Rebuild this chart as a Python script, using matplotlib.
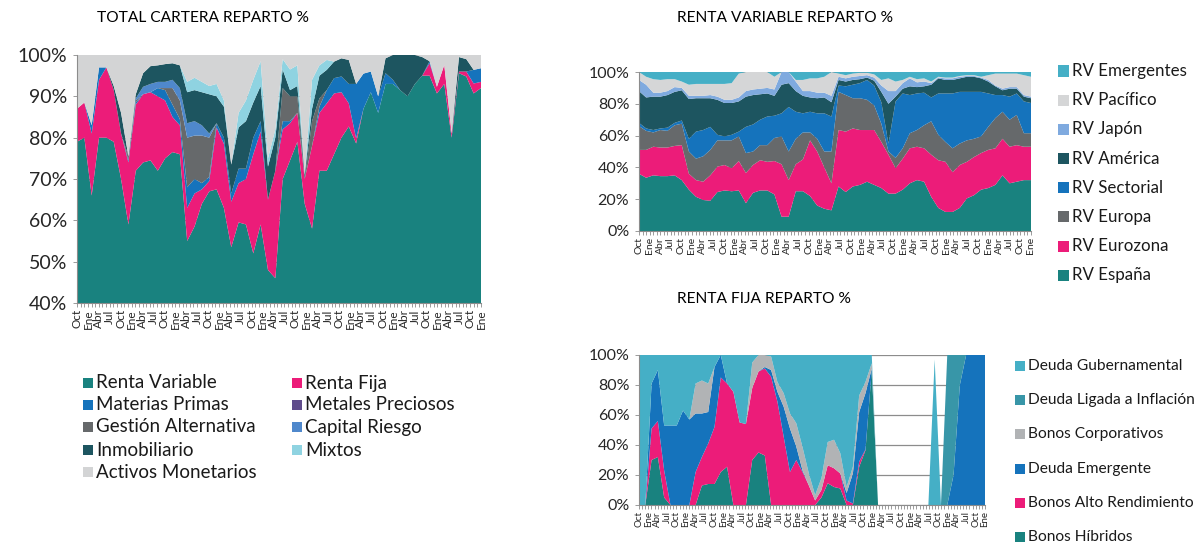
import numpy as np
import pandas as pd
import matplotlib
matplotlib.use('Agg')
import matplotlib.pyplot as plt
from matplotlib.patches import Rectangle
from matplotlib.ticker import FuncFormatter, MultipleLocator

plt.rcParams['font.family'] = ['Lato', 'DejaVu Sans']

W, H = 1204, 544

# eje temporal: meses oct-2003 .. ene-2013, etiquetas trimestrales
months = pd.date_range('2003-10-01', '2013-01-01', freq='MS')
mes = {1: 'Ene', 4: 'Abr', 7: 'Jul', 10: 'Oct'}
x = np.linspace(0, len(months) - 1, 56)   # 56 lecturas (aprox. bimensuales)

# ---------------- TOTAL CARTERA ----------------
renta_variable = [79, 80, 66, 80, 80, 79, 70, 59, 72, 74,
                  74.5, 72, 75, 76.5, 76, 55, 58.5, 64, 67, 67.5,
                  63, 53.5, 59.5, 59, 52, 59, 48, 46, 70, 74.5,
                  79, 64, 58, 72, 72, 76, 80, 82.7, 78.6, 87,
                  91, 86, 93, 93, 91.5, 90, 93, 95, 95, 90.7,
                  93, 80, 95.6, 94.8, 90.7, 92]
renta_fija = [8, 8.5, 15, 14, 17, 12.5, 11, 15, 16, 16.5,
              16.5, 18, 14, 8.5, 7, 8, 8, 3.5, 2.5, 15,
              15.5, 11, 9.5, 11, 24, 22.5, 17, 26, 12, 9,
              7, 6, 20, 14, 16.3, 14.7, 11, 5.6, 1.2, 0,
              0, 0, 0, 0, 0, 0, 0, 0, 3, 1.6,
              4.6, 1, 0.4, 1.2, 2.4, 1.5]
materias_primas = [0, 0, 2, 3, 0, 0, 0, 0.5, 0.5, 0,
                   0, 2, 2.5, 3, 1.5, 5, 3.5, 1.5, 1, 1,
                   1.5, 2, 3.5, 2.5, 4, 2.5, 0, 0, 2, 0.5,
                   0, 0, 0, 1.5, 3.2, 3.7, 3.8, 4.7, 13.2, 8.5,
                   5, 4, 2.6, 1, 0, 0, 0, 0, 0.5, 0,
                   0, 0, 0, 0, 3.3, 3.3]
metales_preciosos = [0, 0, 0, 0, 0, 0, 0, 0, 0, 0,
                     0, 0, 0, 0, 0, 0, 0, 0, 0, 0,
                     0, 0, 0, 0, 0, 0, 0, 0, 0, 0,
                     0, 0, 0, 0, 0, 0, 0, 0, 0, 0,
                     0, 0, 0, 0, 0, 0, 0, 0, 0, 0,
                     0, 0, 0, 0, 0, 0]
gestion_alt = [0, 0, 0, 0, 0, 0, 0, 1, 0.5, 0,
               0, 0, 0.5, 4, 4.5, 12, 10.5, 11.5, 9.5, 0,
               0, 0, 0, 0, 0, 0, 0, 0, 8, 6,
               4, 0, 6, 2, 0, 0, 0, 0, 0, 0,
               0, 0, 0, 0, 0, 0, 0, 0, 0, 0,
               0, 0, 0, 0, 0, 0]
capital_riesgo = [0, 0, 0, 0, 0, 0, 0, 0, 0.5, 1.8,
                  2, 1.5, 1.5, 2, 3, 3.5, 3.5, 2.5, 1, 0,
                  0, 0, 0, 0, 0, 0, 0, 0, 0, 0,
                  0, 0, 0, 0, 0, 0, 0, 0, 0, 0,
                  0, 0, 0, 0, 0, 0, 0, 0, 0, 0,
                  0, 0, 0, 0, 0, 0]
inmobiliario = [0, 0, 0, 0, 0, 1, 5, 0, 1, 3.3,
                4.3, 4, 4.3, 4, 5.5, 7.5, 7.5, 8, 9.5, 6.5,
                7.5, 7, 10, 11.5, 8.5, 8.5, 8, 8, 4.5, 1.5,
                2.5, 1, 3, 5.5, 4.9, 4, 4.4, 5.8, 0, 0,
                0, 0, 3.6, 6, 8.5, 10, 7, 4.5, 0, 0,
                0, 0, 3.5, 3, 0, 0]
mixtos = [0, 0, 0, 0, 0, 0, 0, 0, 0, 0,
          0, 0, 0, 0, 0, 2.5, 3, 2.5, 2, 3,
          1.5, 0, 3.5, 5, 5.5, 6, 2, 2, 2.5, 5,
          5, 0, 7, 2.5, 2.4, 0, 0, 0, 0, 0,
          0, 0, 0, 0, 0, 0, 0, 0, 0, 0,
          0, 0, 0, 0, 0, 0]
monetarios = [13, 11.5, 17, 3, 3, 7.5, 14, 24.5, 9.5, 4.4,
              2.7, 2.5, 2.2, 2, 2.5, 6.5, 5.5, 6.5, 7.5, 7,
              11, 26.5, 14, 11, 6, 1.5, 25, 18, 1, 3.5,
              2.5, 29, 6, 2.5, 1.2, 1.6, 0.8, 1.2, 7, 4.5,
              4, 10, 0.8, 0, 0, 0, 0, 0.5, 1.5, 7.7,
              2.4, 19, 0.5, 1, 3.6, 3.2]

total_names = ['Renta Variable', 'Renta Fija', 'Materias Primas', 'Metales Preciosos',
               'Gestión Alternativa', 'Capital Riesgo', 'Inmobiliario', 'Mixtos',
               'Activos Monetarios']
total_colors = ['#19827F', '#EC1C79', '#1573BC', '#5F4B8B', '#66696B',
                '#4F88CC', '#1D5560', '#8FD3E1', '#D3D4D5']

# ---------------- RENTA VARIABLE ----------------
rv_espana = [36, 33.5, 35, 34.5, 34.5, 35, 32, 26, 21.5, 19.5,
             19, 24.5, 25.5, 25, 25.5, 17.5, 24, 25.5, 25.5, 23,
             9, 9, 25, 25, 22, 16, 14, 13, 28, 24.5,
             28, 29, 31, 29, 27, 23.5, 23.5, 26, 30, 32,
             31, 21.5, 14.5, 12, 12, 14.5, 20.5, 22.5, 26, 27,
             29, 35, 30, 31, 32, 32]
rv_eurozona = [15, 17.5, 18, 18, 18, 18.5, 22, 10, 10.5, 11.5,
               16, 16, 16, 14.5, 18.5, 19, 17.5, 19, 18, 21,
               33, 23, 17, 20, 35, 34, 26, 17, 35.5, 38,
               36.5, 34.5, 32.5, 34.5, 29, 24.5, 16, 19.5, 22, 21,
               21, 26.5, 30, 31.5, 25, 27, 23, 24, 23, 24,
               23, 23, 23, 23, 21, 21]
rv_europa = [15, 12, 9, 11, 10.5, 13, 13.5, 14, 13.5, 16,
             16, 16.5, 15.5, 17.5, 15.5, 12.5, 8.5, 9.5, 10.5, 14.5,
             17.5, 18, 16, 17, 5, 8, 10, 20, 24, 23,
             19, 20, 19, 15.5, 11.5, 2, 6.5, 6.5, 9.5, 10.5,
             14.5, 21, 16, 12.5, 15, 13.5, 13.5, 11.5, 10.5, 14.5,
             19, 17, 17, 19, 8.5, 8.5]
rv_sectorial = [2, 1.5, 1.5, 1, 2, 1.5, 2, 8, 17, 16.5,
                14.5, 3.5, 2.5, 3.5, 3, 16.5, 17, 16, 18, 14,
                14.5, 28, 17, 12, 13, 16, 24, 22, 4, 5.5,
                8.5, 9.5, 12.5, 12.5, 13.5, 5, 35.5, 34.5, 24, 23,
                20.5, 15, 26, 30.5, 34.5, 32.5, 30.5, 29.5, 28, 21,
                14.5, 10.5, 14.5, 13.5, 20, 19]
rv_america = [20, 19.5, 21, 20, 20.5, 19.5, 19, 25, 21, 20,
              18, 22, 21, 20, 19, 19, 18.5, 16, 14.5, 12.5,
              18, 15, 13, 11, 9, 9.5, 10, 9, 3.5, 3,
              3, 2.5, 1.5, 3, 6.5, 25, 3, 3, 5.5, 4,
              4, 8, 9.5, 8.5, 8.5, 8.5, 9.5, 9.5, 8.5, 7.5,
              5.5, 3, 5, 3, 3, 3]
rv_japon = [7, 8, 2.5, 2.5, 2.5, 3, 1.5, 2, 1.5, 1.5,
            2, 2, 2, 2, 2.5, 3.5, 3.5, 3.5, 3.5, 4,
            8, 7, 6, 3, 4, 3.5, 3, 4, 2, 2,
            2, 2, 1.5, 2, 4, 8, 3.5, 3.5, 5, 3,
            3, 1, 0.5, 1, 1, 1, 0.5, 0.5, 0.5, 1,
            0.5, 1, 1, 1, 1, 1]
rv_pacifico = [5, 5, 8.5, 8, 7.5, 5, 4, 7, 7.5, 7.5,
               7, 8, 10, 10.5, 15, 12, 11, 10.5, 10, 8,
               0, 0, 1, 7, 8, 9, 10, 15, 2, 2,
               2, 2, 1.5, 2, 3.5, 8, 6, 2, 1, 2,
               2, 1, 0.5, 0.5, 0.5, 0.5, 0.5, 0.5, 0.5, 3,
               7.5, 9.5, 8.5, 8.5, 12.5, 12.5]
rv_emergentes = [0, 3, 4.5, 5, 4.5, 4.5, 6, 8, 7.5, 7.5,
                 7.5, 7.5, 7.5, 7, 1, 0, 0, 0, 0, 3,
                 0, 0, 5, 5, 4, 4, 3, 0, 1, 2,
                 1, 0.5, 0.5, 1.5, 5, 4, 6, 5, 3, 4.5,
                 4, 6, 3, 3.5, 3.5, 2.5, 2, 2, 3, 2,
                 1, 1, 1, 1, 2, 3]

rv_names = ['RV España', 'RV Eurozona', 'RV Europa', 'RV Sectorial',
            'RV América', 'RV Japón', 'RV Pacífico', 'RV Emergentes']
rv_colors = ['#19827F', '#EC1C79', '#66696B', '#1573BC',
             '#1D5560', '#7FAADF', '#D5D6D7', '#45AFC6']

# ---------------- RENTA FIJA ----------------
bonos_hibridos = [0, 0, 30, 32, 5, 0, 0, 0, 0, 0,
                  13, 14, 14, 22, 25.5, 0, 0, 0, 30, 35,
                  33, 0, 0, 0, 0, 0, 0, 0, 0, 5,
                  14.5, 12, 11, 0, 0, 25.5, 36.5, 90, 0, 0,
                  0, 0, 0, 0, 0, 0, 0, 0, 0, 0,
                  0, 0, 0, 0, 0, 0]
bonos_alto_rend = [0, 0, 21, 24, 18, 0, 0, 0, 0, 22,
                   19, 27, 38, 63, 55.5, 75.5, 55, 54, 48, 54,
                   58, 85.5, 69, 45.5, 22, 30, 22, 13, 3, 5,
                   12, 12.5, 10, 3, 1, 3.5, 0.5, 0, 0, 0,
                   0, 0, 0, 0, 0, 0, 0, 0, 0, 0,
                   0, 0, 0, 0, 0, 0]
deuda_emergente = [0, 0, 30, 34, 30, 53, 53, 63, 57, 39,
                   29, 21, 40, 15, 0, 0, 0, 0, 0, 0,
                   1, 4.5, 6.5, 20, 29, 9, 1, 0, 0, 0,
                   0, 0, 0, 5, 20, 33, 37.5, 1, 0, 0,
                   0, 0, 0, 0, 0, 0, 0, 0, 0, 0,
                   20, 80, 100, 100, 100, 100]
bonos_corporativos = [0, 0, 0, 0, 0, 0, 0, 0, 0, 20,
                      22, 19, 0, 0, 0, 0, 0, 0, 17, 11,
                      8, 9, 6.5, 9, 10, 15.5, 15.5, 8, 3.5, 8,
                      15.5, 19, 13.5, 4, 4.5, 11, 7.5, 3.5, 0, 0,
                      0, 0, 0, 0, 0, 0, 0, 0, 0, 0,
                      0, 0, 0, 0, 0, 0]
deuda_ligada = [0, 0, 0, 0, 0, 0, 0, 0, 0, 0,
                0, 0, 0, 0, 0, 0, 0, 0, 0, 0,
                0, 0, 0, 0, 0, 0, 0, 0, 0, 0,
                0, 0, 0, 0, 0, 0, 0, 0, 0, 0,
                0, 0, 0, 0, 0, 0, 0, 0, 0, 100,
                80, 20, 0, 0, 0, 0]
deuda_gubernamental = [100, 100, 19, 10, 47, 47, 47, 37, 43, 19,
                       17, 19, 8, 0, 19, 24.5, 45, 46, 5, 0,
                       0, 1, 18, 25.5, 39, 45.5, 61.5, 79, 93.5, 82,
                       58, 56.5, 65.5, 88, 74.5, 27, 18, 5.5, 0, 0,
                       0, 0, 0, 0, 0, 0, 0, 97, 0, 0,
                       0, 0, 0, 0, 0, 0]

rf_names = ['Bonos Híbridos', 'Bonos Alto Rendimiento', 'Deuda Emergente',
            'Bonos Corporativos', 'Deuda Ligada a Inflación', 'Deuda Gubernamental']
rf_colors = ['#19827F', '#EC1C79', '#1573BC', '#B1B3B5', '#3896A8', '#45AFC6']


def px_axes(fig, x0, y0, x1, y1):
    return fig.add_axes([x0 / W, 1 - y1 / H, (x1 - x0) / W, (y1 - y0) / H])


def style(ax, ymin, step, yfs, xfs):
    ax.set_xlim(0, len(months) - 1)
    ax.set_ylim(ymin, 100)
    ax.yaxis.set_major_locator(MultipleLocator(step))
    ax.yaxis.set_major_formatter(FuncFormatter(lambda v, p: f'{v:.0f}%'))
    qi = [i for i, m in enumerate(months) if m.month in mes]
    ax.set_xticks(qi)
    ax.set_xticklabels([mes[months[i].month] for i in qi], rotation=90,
                       fontsize=xfs, color='#262626')
    ax.set_xticks(range(len(months)), minor=True)
    ax.tick_params(axis='x', which='both', length=3, width=0.6,
                   color='#8c8c8c', pad=1.5)
    ax.tick_params(axis='y', length=3, width=0.6, color='#8c8c8c',
                   labelsize=yfs, labelcolor='#262626', pad=4)
    for s in ['top', 'right']:
        ax.spines[s].set_visible(False)
    for s in ['left', 'bottom']:
        ax.spines[s].set_color('#8c8c8c')
        ax.spines[s].set_linewidth(0.8)
    ax.set_axisbelow(True)
    ax.yaxis.grid(True, color='#8c8c8c', lw=0.9)


def legend_boxes(fig, names, colors, xs, ys, size, fs):
    for name, col, bx, by in zip(names, colors, xs, ys):
        fig.patches.append(Rectangle((bx / W, 1 - (by + size / 2) / H), size / W, size / H,
                                     transform=fig.transFigure, fc=col, ec='none'))
        fig.text((bx + size + 3) / W, 1 - by / H, name, fontsize=fs,
                 va='center', ha='left', color='#1a1a1a')


fig = plt.figure(figsize=(W / 100, H / 100), dpi=100)

# total cartera
ax1 = px_axes(fig, 77, 55, 481, 303)
ax1.stackplot(x, renta_variable, renta_fija, materias_primas, metales_preciosos,
              gestion_alt, capital_riesgo, inmobiliario, mixtos, monetarios,
              colors=total_colors, linewidth=0)
style(ax1, 40, 10, 14, 8.5)
fig.text(97 / W, 1 - 18 / H, 'TOTAL CARTERA REPARTO %', fontsize=11.2, va='center')
lx = [83, 292] * 5
ly = [383, 383, 405, 405, 427, 427, 450, 450, 472]
legend_boxes(fig, total_names, total_colors, lx, ly, 10, 13.5)

# renta variable
ax2 = px_axes(fig, 639, 72, 1031, 231)
ax2.stackplot(x, rv_espana, rv_eurozona, rv_europa, rv_sectorial, rv_america,
              rv_japon, rv_pacifico, rv_emergentes, colors=rv_colors, linewidth=0)
style(ax2, 0, 20, 11.5, 7.5)
fig.text(677 / W, 1 - 18 / H, 'RENTA VARIABLE REPARTO %', fontsize=11.2, va='center')
legend_boxes(fig, rv_names[::-1], rv_colors[::-1], [1058] * 8,
             [71 + 29.2 * k for k in range(8)], 11, 12.2)

# renta fija
ax3 = px_axes(fig, 639, 355, 985, 505)
ax3.stackplot(x, bonos_hibridos, bonos_alto_rend, deuda_emergente, bonos_corporativos,
              deuda_ligada, deuda_gubernamental, colors=rf_colors, linewidth=0)
style(ax3, 0, 20, 11.5, 7)
fig.text(677 / W, 1 - 299 / H, 'RENTA FIJA REPARTO %', fontsize=11.2, va='center')
legend_boxes(fig, rf_names[::-1], rf_colors[::-1], [1015] * 6,
             [366 + 34.2 * k for k in range(6)], 10, 11.2)

fig.savefig('out.png', dpi=100)
